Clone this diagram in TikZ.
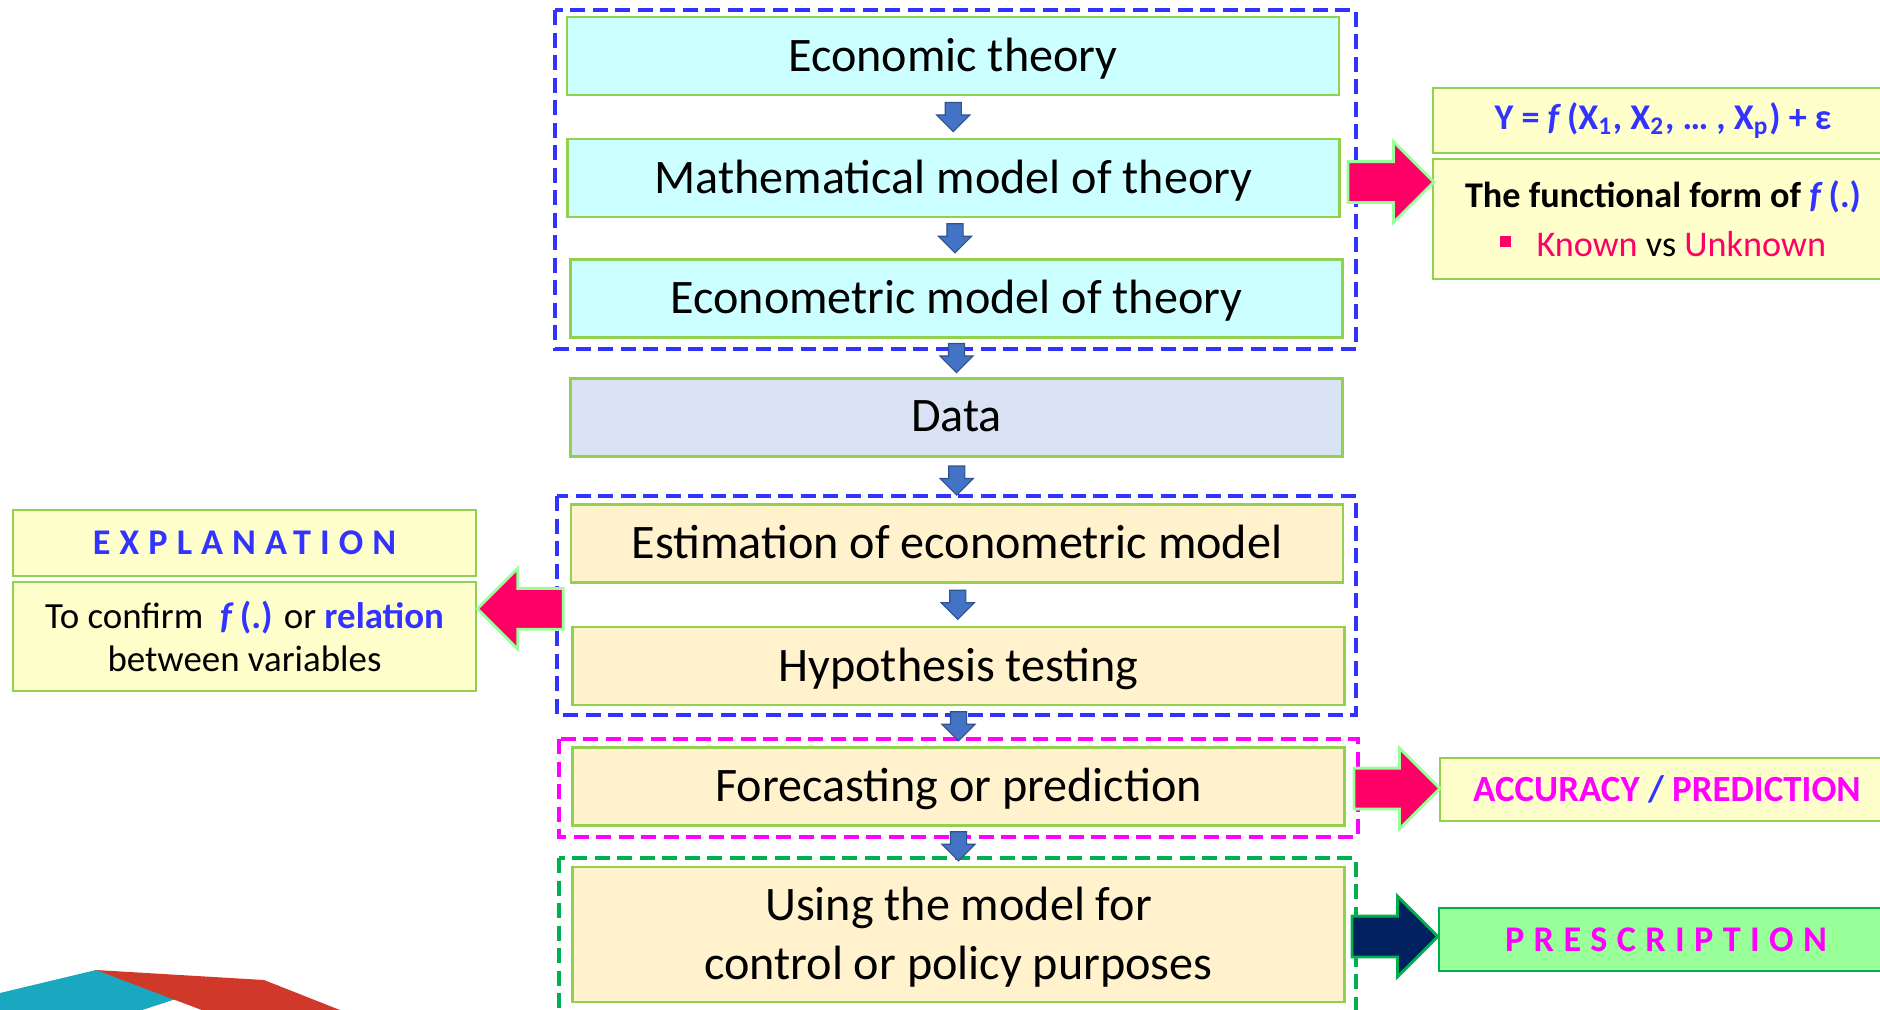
\documentclass[tikz,border=0pt]{standalone}
\usepackage{fontspec}
\setmainfont{Carlito}
\newfontfamily\spreadfont[LetterSpace=25]{Carlito}
\newfontfamily\widefont[LetterSpace=26]{Carlito}
\usetikzlibrary{shapes.arrows,calc}
\definecolor{edgegreen}{HTML}{92D050}
\definecolor{boxcyan}{HTML}{CCFFFF}
\definecolor{boxdata}{HTML}{DAE3F3}
\definecolor{boxcream}{HTML}{FFF2CC}
\definecolor{boxyellow}{HTML}{FFFFCC}
\definecolor{boxmint}{HTML}{99FF99}
\definecolor{textblue}{HTML}{3333FF}
\definecolor{textpink}{HTML}{FF0066}
\definecolor{textmagenta}{HTML}{FF00FF}
\definecolor{darkgreen}{HTML}{00B050}
\definecolor{navy}{HTML}{002060}
\definecolor{arrblue}{HTML}{4472C4}
\definecolor{arrblueedge}{HTML}{2F528F}
\definecolor{teal}{HTML}{1AA7C0}
\definecolor{brick}{HTML}{D0382A}
\begin{document}
\begin{tikzpicture}[x=0.1mm,y=-0.1mm,font=\fontsize{13.7}{16.8}\selectfont,
  stepbox/.style={draw=edgegreen,line width=.6pt,minimum width=7.72cm,minimum height=.78cm,inner sep=0pt,text depth=.08em,align=center},
  sidebox/.style={draw=edgegreen,line width=.6pt,fill=boxyellow,inner sep=0pt,align=center,font=\fontsize{10.3}{14}\selectfont},
  frame/.style={line width=1.1pt,dash pattern=on 1.5mm off .75mm},
  downarr/.style={single arrow,shape border rotate=270,fill=arrblue,draw=arrblueedge,line width=.3pt,inner sep=.75mm,single arrow head extend=.85mm,minimum height=2.9mm,yshift=.4mm},
  bigarr/.style={single arrow,fill=textpink,draw=boxmint,line width=.8pt,inner sep=1.9mm,single arrow head extend=2mm,minimum height=8.6mm}]
\useasboundingbox (0,0) rectangle (1880,1009);
\fill[teal] (0,993) -- (96,970) -- (176,999) -- (136,1012) -- (0,1012) -- cycle;
\fill[brick] (96,970) -- (264,980) -- (345,1012) -- (207,1012) -- cycle;
\draw[frame,draw=textblue] (555,10) rectangle (1356,349);
\draw[frame,draw=textblue] (557,496) rectangle (1356,715);
\draw[frame,draw=textmagenta] (559,739) rectangle (1358,837);
\draw[frame,draw=darkgreen] (559,858) rectangle (1356,1020);
\node[stepbox,fill=boxcyan] (eco) at (953,56) {Economic theory};
\node[stepbox,fill=boxcyan] (mathm) at (953.5,178) {Mathematical model of theory};
\node[stepbox,fill=boxcyan] (econm) at (956.5,298.5) {Econometric model of theory};
\node[stepbox,fill=boxdata] (data) at (956.5,417.5) {Data};
\node[stepbox,fill=boxcream] (est) at (957,543.5) {Estimation of econometric model};
\node[stepbox,fill=boxcream] (hyp) at (958.5,666) {Hypothesis testing};
\node[stepbox,fill=boxcream] (fore) at (958.5,786.5) {Forecasting or prediction};
\node[stepbox,fill=boxcream,minimum height=1.35cm] (use) at (958.5,934.5) {Using the model for\\control or policy purposes};
\node[downarr] (a1) at ($(eco.south)!.5!(mathm.north)$) {};
\node[downarr] (a2) at ($(mathm.south)!.5!(econm.north)$) {};
\node[downarr] (a3) at ($(econm.south)!.5!(data.north)$) {};
\node[downarr] (a4) at ($(data.south)!.5!(est.north)$) {};
\node[downarr] (a5) at ($(est.south)!.5!(hyp.north)$) {};
\node[downarr] (a6) at ($(hyp.south)!.5!(fore.north)$) {};
\node[downarr] (a7) at ($(fore.south)!.5!(use.north)$) {};
\node[sidebox,minimum width=4.6cm,minimum height=.65cm] (yeq) at (1663,120.5) {\textcolor{textblue}{\bfseries Y = \textit{f}\,(X\textsubscript{1}, X\textsubscript{2}, … , X\textsubscript{p}) + ε}};
\node[sidebox,minimum width=4.6cm,minimum height=1.2cm] (form) at (1663,219) {{\bfseries The functional form of \textcolor{textblue}{\textit{f}\,(.)}}\\\textcolor{textpink}{\rule[.55ex]{.65ex}{.65ex}}\hspace{.7em}\textcolor{textpink}{Known} vs \textcolor{textpink}{Unknown}};
\node[sidebox,minimum width=4.63cm,minimum height=.66cm] (expl) at (244.5,543) {\spreadfont\bfseries\textcolor{textblue}{EXPLANATION}};
\node[sidebox,minimum width=4.63cm,minimum height=1.09cm,font=\fontsize{10.5}{12.3}\selectfont] (conf) at (244.5,636.5) {To confirm\ \ \textcolor{textblue}{\bfseries\textit{f}\,(.)} or \textcolor{textblue}{\bfseries relation}\\between variables};
\node[sidebox,minimum width=4.54cm,minimum height=.63cm,font=\fontsize{10.5}{14}\selectfont] (acc) at (1667,789.5) {\bfseries\textcolor{textmagenta}{ACCURACY} \textcolor{textblue}{/} \textcolor{textmagenta}{PREDICTION}};
\node[sidebox,fill=boxmint,draw=darkgreen,minimum width=4.54cm,minimum height=.63cm] (presc) at (1666,939.5) {\widefont\bfseries\textcolor{textmagenta}{PRESCRIPTION}};
\node[bigarr,anchor=tail] (arrM) at ($(mathm.east)+(6,4)$) {};
\node[bigarr,anchor=tail,shape border rotate=180] (arrL) at ($(est.south west)!.5!(hyp.north west)+(-6,4)$) {};
\node[bigarr,anchor=tail] (arrA) at ($(fore.east)+(7,2)$) {};
\node[bigarr,anchor=tail,fill=navy,draw=darkgreen] (arrP) at ($(use.east)+(5,2)$) {};
\end{tikzpicture}
\end{document}
